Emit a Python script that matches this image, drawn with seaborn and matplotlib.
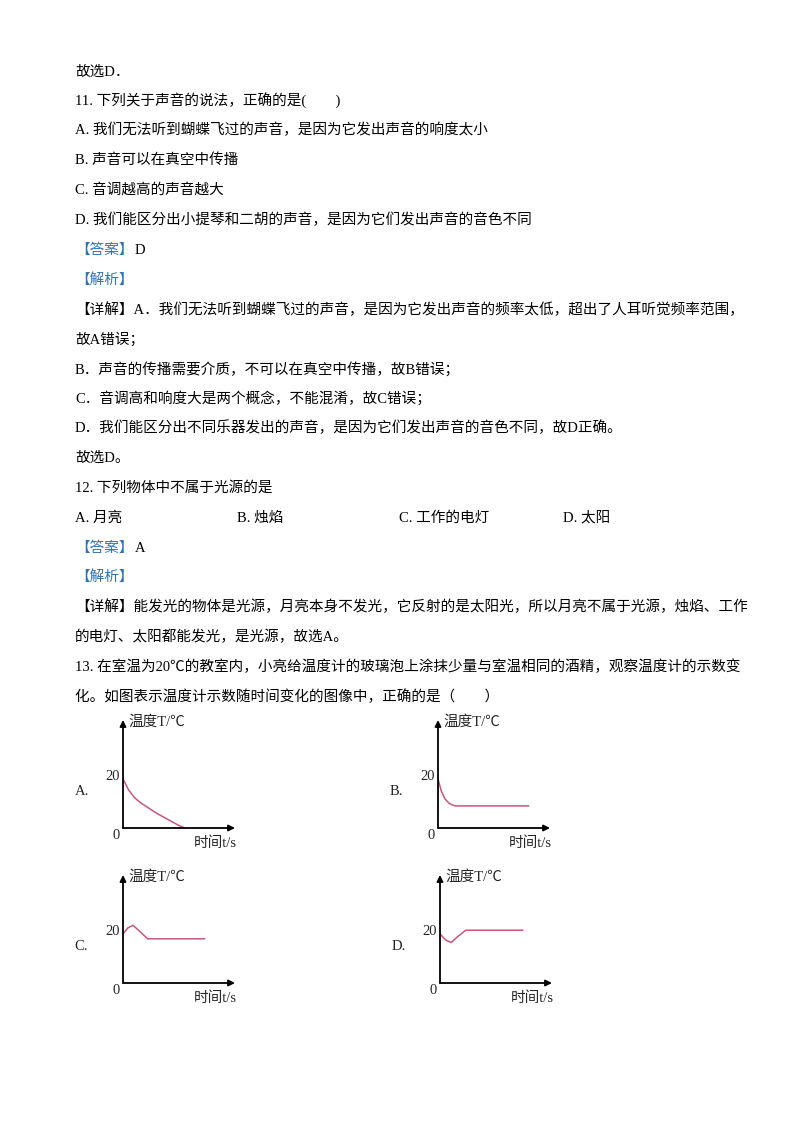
import matplotlib
matplotlib.use("Agg")
import matplotlib.pyplot as plt
import seaborn as sns
import pandas as pd

sns.set_style("white")
FAM = ['Liberation Serif', 'Noto Sans CJK SC', 'DejaVu Sans']
plt.rcParams['font.family'] = FAM

W, H = 800, 1132
BLUE = '#2e75b6'
CURVE = '#c8577a'

# text lines: (y_px, x_px, text, colour)
lines = [
    (72, 75, "故选D．", 'k'),
    (101, 75, "11. 下列关于声音的说法，正确的是(　　)", 'k'),
    (130, 75, "A. 我们无法听到蝴蝶飞过的声音，是因为它发出声音的响度太小", 'k'),
    (160, 75, "B. 声音可以在真空中传播", 'k'),
    (190, 75, "C. 音调越高的声音越大", 'k'),
    (220, 75, "D. 我们能区分出小提琴和二胡的声音，是因为它们发出声音的音色不同", 'k'),
    (280, 75, "【解析】", BLUE),
    (310, 75, "【详解】A．我们无法听到蝴蝶飞过的声音，是因为它发出声音的频率太低，超出了人耳听觉频率范围，", 'k'),
    (339, 75, "故A错误；", 'k'),
    (369, 75, "B．声音的传播需要介质，不可以在真空中传播，故B错误；", 'k'),
    (398, 75, "C．音调高和响度大是两个概念，不能混淆，故C错误；", 'k'),
    (428, 75, "D．我们能区分出不同乐器发出的声音，是因为它们发出声音的音色不同，故D正确。", 'k'),
    (458, 75, "故选D。", 'k'),
    (488, 75, "12. 下列物体中不属于光源的是", 'k'),
    (518, 75, "A. 月亮", 'k'),
    (518, 237, "B. 烛焰", 'k'),
    (518, 399, "C. 工作的电灯", 'k'),
    (518, 563, "D. 太阳", 'k'),
    (577, 75, "【解析】", BLUE),
    (607, 75, "【详解】能发光的物体是光源，月亮本身不发光，它反射的是太阳光，所以月亮不属于光源，烛焰、工作", 'k'),
    (637, 75, "的电灯、太阳都能发光，是光源，故选A。", 'k'),
    (667, 75, "13. 在室温为20℃的教室内，小亮给温度计的玻璃泡上涂抹少量与室温相同的酒精，观察温度计的示数变", 'k'),
    (697, 75, "化。如图表示温度计示数随时间变化的图像中，正确的是（　　）", 'k'),
]
answers = [(250, "D"), (548, "A")]

# curve data (t in s, T in ℃)
tA = [0, 0.5, 1, 1.5, 2, 3, 4, 5, 5.5]
TA = [20, 15.5, 12.5, 10.5, 9, 6, 3.5, 1, 0]
tB = [0, 0.3, 0.6, 1, 1.5, 2, 8.1]
TB = [20, 15, 12, 10, 9, 9, 9]
tC = [0, 0.45, 0.9, 1.5, 2.2, 7.3]
TC = [20, 22.5, 23.5, 21, 18, 18]
tD = [0, 0.5, 1, 1.6, 2.3, 7.4]
TD = [20, 17.5, 16.5, 19, 21.5, 21.5]

fig = plt.figure(figsize=(8, 11.32), dpi=100)
FS = 10.5
for y, x, s, c in lines:
    fig.text(x / W, 1 - y / H, s, fontsize=FS, color=c, va='center', ha='left')
for y, s in answers:
    fig.text(75 / W, 1 - y / H, "【答案】", fontsize=FS, color=BLUE, va='center')
    fig.text(135 / W, 1 - y / H, s, fontsize=FS, color='k', va='center')

panels = [
    ("A.", tA, TA, 123, 828),
    ("B.", tB, TB, 438, 828),
    ("C.", tC, TC, 123, 983),
    ("D.", tD, TD, 440, 983),
]
for lab, t, T, x0, y0 in panels:
    ax = fig.add_axes([x0 / W, 1 - y0 / H, 112 / W, 108 / H])
    df = pd.DataFrame({"t": t, "T": T})
    sns.lineplot(data=df, x="t", y="T", ax=ax, color=CURVE, linewidth=1.1)
    ax.set_xlim(0, 10)
    ax.set_ylim(0, 44)
    ax.axis('off')
    ax.annotate("", xy=(10, 0), xytext=(0, 0), annotation_clip=False,
                arrowprops=dict(arrowstyle='-|>', color='k', lw=1.3, mutation_scale=9, shrinkA=0, shrinkB=0))
    ax.annotate("", xy=(0, 44), xytext=(0, 0), annotation_clip=False,
                arrowprops=dict(arrowstyle='-|>', color='k', lw=1.3, mutation_scale=9, shrinkA=0, shrinkB=0))
    ax.text(0.5, 43, "温度T/℃", fontsize=FS, va='center', ha='left')
    ax.text(-0.3, 21, "20", fontsize=FS, va='center', ha='right')
    ax.text(-0.3, -3, "0", fontsize=FS, va='center', ha='right')
    ax.text(6.3, -6, "时间t/s", fontsize=FS, va='center', ha='left')
    ax.text(-4.3, 15, lab, fontsize=FS, va='center', ha='left')

fig.savefig("out.png", dpi=100)
